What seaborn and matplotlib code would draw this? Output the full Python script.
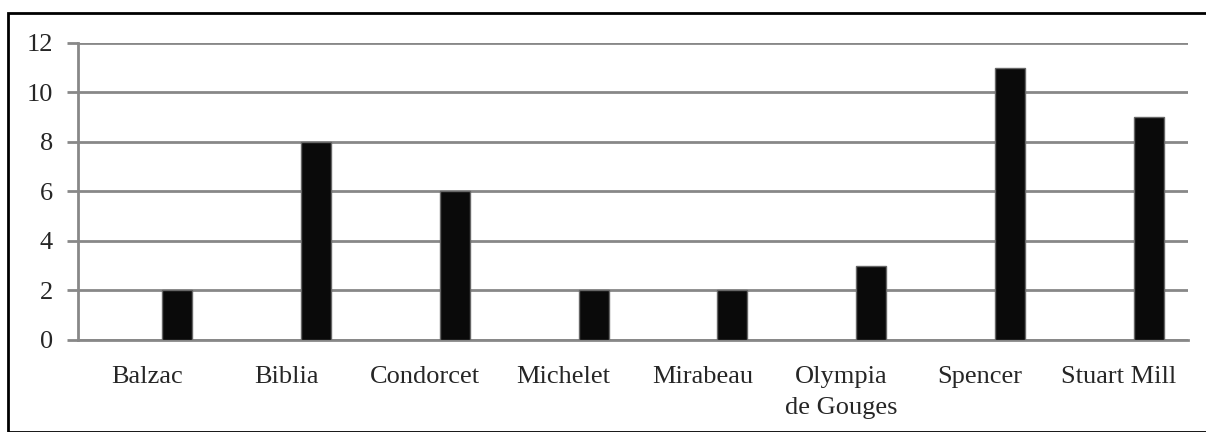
import matplotlib
matplotlib.use("Agg")
import matplotlib.pyplot as plt
import pandas as pd
import seaborn as sns
from matplotlib.patches import Rectangle

authors = ["Balzac", "Biblia", "Condorcet", "Michelet", "Mirabeau",
           "Olympia\nde Gouges", "Spencer", "Stuart Mill"]
counts = [2, 8, 6, 2, 2, 3, 11, 9]
series = ["s1", "s2", "s3"]  # excel-style: only the third series holds data
yticks = [0, 2, 4, 6, 8, 10, 12]

sns.set_style("white")
plt.rcParams["font.family"] = ["Liberation Serif", "DejaVu Serif"]

df = pd.DataFrame({"author": authors, "count": counts, "series": "s3"})

fig = plt.figure(figsize=(12.06, 4.32), dpi=100)
ax = fig.add_axes([0.0647, 0.213, 0.9203, 0.6875])

sns.barplot(data=df, x="author", y="count", hue="series", hue_order=series,
            order=authors, palette=["#0a0a0a"] * 3, width=0.65, dodge=True,
            edgecolor="#666666", linewidth=1.0, legend=False, ax=ax, zorder=3)

ax.set_xlim(-0.5, len(authors) - 0.5)
ax.set_ylim(0, 12)
ax.set_yticks(yticks)
ax.set_yticklabels([str(v) for v in yticks], fontsize=19)
ax.grid(axis="y", color="#888888", linewidth=2, zorder=0)
ax.set_axisbelow(True)

ax.set_xticks(range(len(authors)))
ax.set_xticklabels(authors, fontsize=19, linespacing=1.5)
ax.set_xticks([i - 0.5 for i in range(len(authors) + 1)], minor=True)
ax.tick_params(axis="x", which="major", length=0, pad=19)
ax.tick_params(axis="x", which="minor", length=8, width=2, color="#888888", direction="out")
ax.tick_params(axis="y", length=8, width=2, color="#888888", direction="out", pad=10, left=True)
ax.set_xlabel("")
ax.set_ylabel("")

for side in ["top", "right"]:
    ax.spines[side].set_visible(False)
for side in ["left", "bottom"]:
    ax.spines[side].set_color("#888888")
    ax.spines[side].set_linewidth(2)

# outer chart border
fig.patches.append(Rectangle((8 / 1206, 0), 1.2, 1 - 13 / 432, transform=fig.transFigure,
                             fill=False, edgecolor="black", linewidth=2))

plt.savefig("out.png", dpi=100, facecolor="w")
plt.close()
